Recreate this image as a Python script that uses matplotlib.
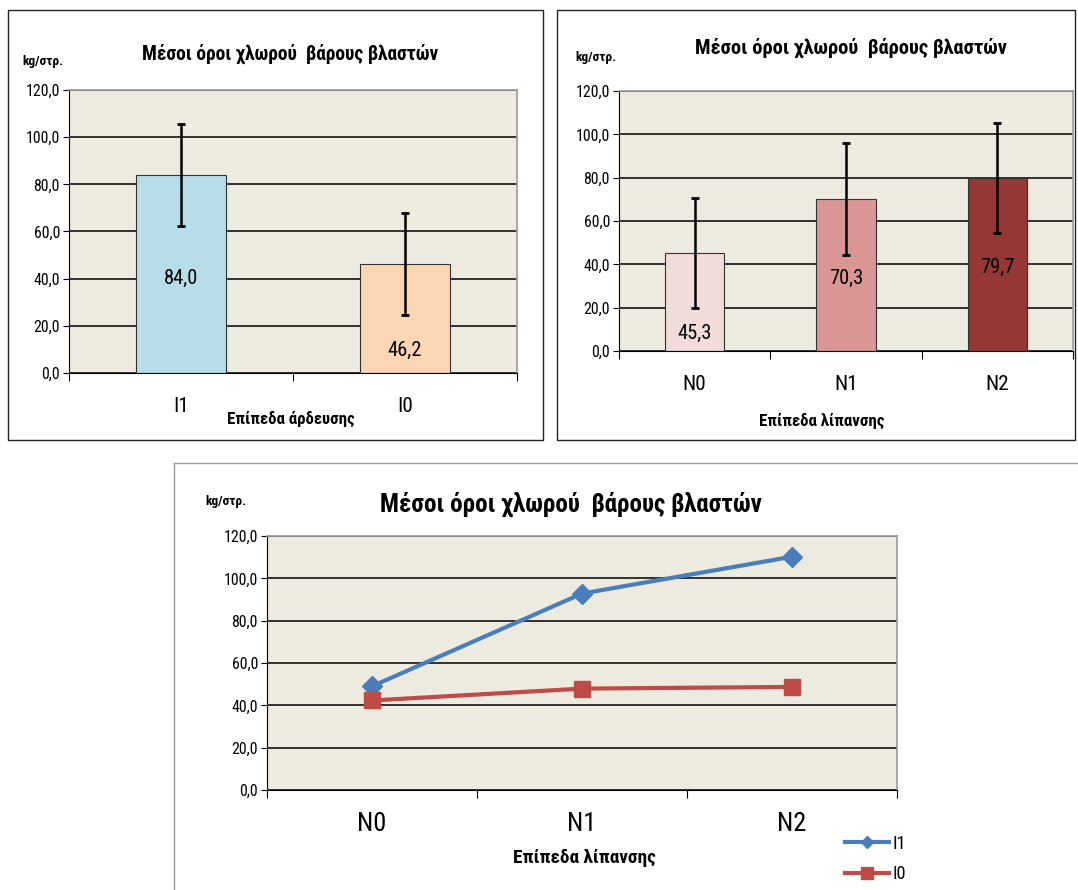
import matplotlib
matplotlib.use("Agg")
import matplotlib.pyplot as plt
from matplotlib import font_manager as fm
from matplotlib.font_manager import FontProperties
from matplotlib.ft2font import FT2Font
from matplotlib.lines import Line2D
from matplotlib.patches import Rectangle
from matplotlib.textpath import TextPath
from matplotlib.ticker import FixedLocator, FuncFormatter
import numpy as np

# data
title = "Μέσοι όροι χλωρού  βάρους βλαστών"
unit = "kg/στρ."

irr_cats = ["I1", "I0"]
irr_means = [84.0, 46.2]
irr_err = [21.7, 21.7]
irr_colors = ["#B7DDE8", "#FCD5B5"]
irr_xlabel = "Επίπεδα άρδευσης"

fert_cats = ["N0", "N1", "N2"]
fert_means = [45.3, 70.3, 79.7]
fert_err = [25.5, 25.8, 25.4]
fert_colors = ["#F2DCDB", "#D99694", "#953735"]
fert_xlabel = "Επίπεδα λίπανσης"

line_names = ["I1", "I0"]
line_I1 = [49.0, 92.8, 110.2]
line_I0 = [42.3, 47.9, 48.7]


# pick a narrow sans with greek glyphs (the original is Arial Narrow)
def pick_font():
    wanted = ["Liberation Sans Narrow", "Arial Narrow", "Roboto Condensed", "Ubuntu Condensed",
              "Fira Sans Condensed", "Open Sans Condensed", "IBM Plex Sans Condensed"]
    for name in wanted:
        for f in fm.fontManager.ttflist:
            if f.name == name:
                try:
                    if ord("λ") in FT2Font(f.fname).get_charmap():
                        return name
                except Exception:
                    pass
    return "Liberation Sans"


FONT = pick_font()
plt.rcParams['font.family'] = [FONT, 'DejaVu Sans']

BG = "#EDEADF"
W, H = 1078, 890

fig = plt.figure(figsize=(W / 100, H / 100), dpi=100)


def fx(px):
    return px / W


def fy(py):
    return 1 - py / H


def ink(s, bold):
    prop = FontProperties(family=[FONT], weight="bold" if bold else "normal")
    return TextPath((0, 0), s, size=100, prop=prop).get_extents()


# font size (pt) between the one matching the ink width of s
# and the one matching the ink height of glyph hs
def size_for(s, w_px, hs, h_px, bold=False, hw=0.5):
    sw = w_px * 72 / ink(s, bold).width
    sh = h_px * 72 / ink(hs, bold).height
    return sw ** (1 - hw) * sh ** hw


def frame(x0, y0, x1, y1, color="#222222", lw=1.0):
    fig.add_artist(Rectangle((fx(x0), fy(y1)), fx(x1 - x0), (y1 - y0) / H,
                             transform=fig.transFigure, fill=False,
                             edgecolor=color, linewidth=lw))


TICK = size_for("120,0", 30, "0", 12, hw=0.7)
TITLE1 = size_for(title, 284, "M", 14.5, True)
TITLE2 = size_for(title, 302, "M", 15, True)
TITLE3 = size_for(title, 390, "M", 17.5, True)
UNIT = size_for(unit, 40, "k", 10, True)
XLAB = size_for(irr_xlabel, 122, "E", 12.5, True)
XLAB3 = size_for(fert_xlabel, 143, "E", 13.5, True)
CAT = size_for("N0", 20, "N", 16)
CAT3 = size_for("N0", 27, "N", 18)
VAL = size_for("84,0", 30, "8", 16)
LEG = size_for("I1", 9, "I", 13, hw=0.7)


def make_axes(x0, y0, x1, y1):
    ax = fig.add_axes([fx(x0), fy(y1), fx(x1 - x0), (y1 - y0) / H])
    ax.set_facecolor(BG)
    ax.set_ylim(0, 120)
    ax.set_yticks(np.arange(0, 121, 20))
    ax.yaxis.set_major_formatter(FuncFormatter(lambda v, p: f"{v:.1f}".replace(".", ",")))
    ax.grid(axis="y", color="black", linewidth=1.1)
    ax.set_axisbelow(True)
    for s in ["top", "right"]:
        ax.spines[s].set_color("#9a9a9a")
        ax.spines[s].set_linewidth(1.2)
    ax.spines["left"].set_color("black")
    ax.spines["bottom"].set_color("black")
    ax.tick_params(axis="y", direction="out", length=4, labelsize=TICK, pad=2.5)
    return ax


def cat_axis(ax, n):
    ax.set_xlim(-0.5, n - 0.5)
    ax.xaxis.set_major_locator(FixedLocator(np.arange(-0.5, n, 1.0)))
    ax.xaxis.set_major_formatter(FuncFormatter(lambda v, p: ""))
    ax.tick_params(axis="x", direction="out", length=6)


def fmt(v):
    return f"{v:.1f}".replace(".", ",")


# ---- panel 1: irrigation bars
frame(8, 10, 543, 440)
ax1 = make_axes(69, 90, 517, 373)
cat_axis(ax1, len(irr_cats))
x = np.arange(len(irr_cats))
ax1.bar(x, irr_means, width=0.4, color=irr_colors, edgecolor="#333333", linewidth=0.8, zorder=2)
ax1.errorbar(x, irr_means, yerr=irr_err, fmt="none", ecolor="black", elinewidth=1.8,
             capsize=3.2, capthick=2, zorder=3)
for xi, v, ly in zip(x, irr_means, [40, 9.5]):
    ax1.text(xi, ly, fmt(v), ha="center", va="center", fontsize=VAL, zorder=4)
for xi, c in zip(x, irr_cats):
    ax1.text(xi, -14, c, ha="center", va="center", fontsize=CAT)
fig.text(fx(291), fy(419), irr_xlabel, ha="center", va="center", fontsize=XLAB, fontweight="bold")
fig.text(fx(290), fy(54), title, ha="center", va="center", fontsize=TITLE1, fontweight="bold")
fig.text(fx(22), fy(62), unit, ha="left", va="center", fontsize=UNIT, fontweight="bold")

# ---- panel 2: fertilisation bars
frame(557, 10, 1075, 440)
ax2 = make_axes(619, 91, 1073, 351)
cat_axis(ax2, len(fert_cats))
x = np.arange(len(fert_cats))
ax2.bar(x, fert_means, width=0.39, color=fert_colors, edgecolor="#333333", linewidth=0.8, zorder=2)
ax2.errorbar(x, fert_means, yerr=fert_err, fmt="none", ecolor="black", elinewidth=1.8,
             capsize=3.2, capthick=2, zorder=3)
for xi, v, ly in zip(x, fert_means, [8.3, 33.5, 38.8]):
    ax2.text(xi, ly, fmt(v), ha="center", va="center", fontsize=VAL, zorder=4)
for xi, c in zip(x, fert_cats):
    ax2.text(xi, -15.5, c, ha="center", va="center", fontsize=CAT)
fig.text(fx(822), fy(421), fert_xlabel, ha="center", va="center", fontsize=XLAB, fontweight="bold")
fig.text(fx(851), fy(48), title, ha="center", va="center", fontsize=TITLE2, fontweight="bold")
fig.text(fx(575), fy(58), unit, ha="left", va="center", fontsize=UNIT, fontweight="bold")

# ---- panel 3: lines
frame(174, 463, 1090, 900, color="#999999")
ax3 = make_axes(267, 536, 897, 790)
cat_axis(ax3, len(fert_cats))
x = np.arange(len(fert_cats))
ax3.plot(x, line_I1, color="#4A7EBB", linewidth=3, marker="D", markersize=10, zorder=3)
ax3.plot(x, line_I0, color="#BE4B48", linewidth=3, marker="s", markersize=11, zorder=3)
for xi, c in zip(x, fert_cats):
    ax3.text(xi, -16, c, ha="center", va="center", fontsize=CAT3)
fig.text(fx(584), fy(858), fert_xlabel, ha="center", va="center", fontsize=XLAB3, fontweight="bold")
fig.text(fx(571), fy(504), title, ha="center", va="center", fontsize=TITLE3, fontweight="bold")
fig.text(fx(205), fy(502), unit, ha="left", va="center", fontsize=UNIT, fontweight="bold")
handles = [Line2D([], [], color="#4A7EBB", linewidth=3, marker="D", markersize=6),
           Line2D([], [], color="#BE4B48", linewidth=3, marker="s", markersize=8)]
ax3.legend(handles, line_names, loc="center left", bbox_to_anchor=(fx(836), fy(859)),
           bbox_transform=fig.transFigure, frameon=False, fontsize=LEG,
           handlelength=2.4, labelspacing=0.7, handletextpad=0.2, borderpad=0)

fig.savefig("out.png", dpi=100)
